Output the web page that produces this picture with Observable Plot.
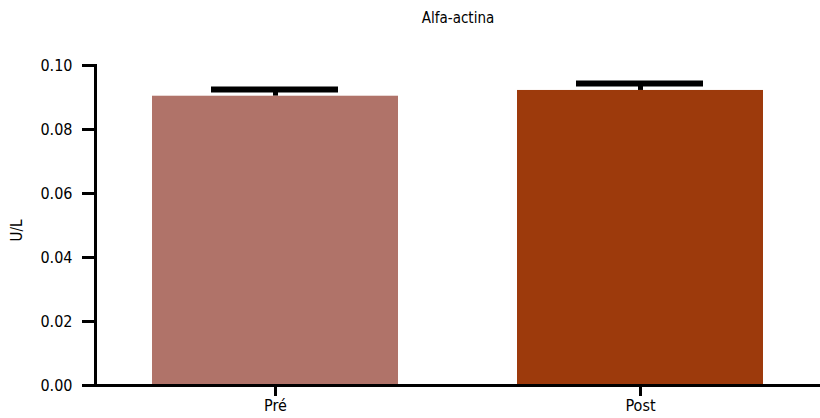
<!DOCTYPE html>
<html>
<head>
<meta charset="utf-8">
<script src="https://cdn.jsdelivr.net/npm/d3@7"></script>
<script src="https://cdn.jsdelivr.net/npm/@observablehq/plot@0.6"></script>
<style>
  body { margin: 0; background: #fff; }
  svg { display: block; }
</style>
</head>
<body>
<div id="chart"></div>
<script>
const categories = ["Pré", "Post"];
const means = [0.0904, 0.0922];
const errors = [0.0021, 0.0022];
const colors = ["#B07369", "#9D3A0C"];
const yTicks = [0, 0.02, 0.04, 0.06, 0.08, 0.10];
const title = "Alfa-actina";
const yLabel = "U/L";

const data = categories.map((c, i) => ({cat: c, mean: means[i], top: means[i] + errors[i]}));
const FONT = "'Liberation Sans Narrow', 'DejaVu Sans Condensed', sans-serif";

const chart = Plot.plot({
  width: 820,
  height: 418,
  marginTop: 65,
  marginBottom: 33,
  marginLeft: 95,
  marginRight: 0,
  style: {fontFamily: FONT, background: "#fff", color: "#000"},
  x: {domain: categories, paddingInner: 0.325, paddingOuter: 0.153, axis: null},
  y: {domain: [0, 0.1], axis: null},
  color: {domain: categories, range: colors},
  marks: [
    Plot.ruleX(data, {x: "cat", y1: "mean", y2: "top", stroke: "#000", strokeWidth: 5}),
    Plot.barY(data, {x: "cat", y: "mean", fill: "cat"}),
    Plot.tickY(data, {x: "cat", y: "top", stroke: "#000", strokeWidth: 6, insetLeft: 59, insetRight: 60}),
    Plot.axisY({ticks: yTicks, tickFormat: d3.format(".2f"), tickSize: 13, strokeWidth: 3, tickPadding: 10, fontSize: 16, label: null}),
    Plot.axisX({tickSize: 11, strokeWidth: 3, tickPadding: 3, fontSize: 16, label: null}),
    Plot.ruleY([0], {stroke: "#000", strokeWidth: 3}),
    Plot.frame({anchor: "left", stroke: "#000", strokeWidth: 3}),
    Plot.text([title], {frameAnchor: "top", dy: -53, fontSize: 15, fill: "#000"}),
    Plot.text([yLabel], {frameAnchor: "left", dx: -78, dy: 5, rotate: -90, textAnchor: "middle", fontSize: 15, fill: "#000"})
  ]
});
document.getElementById("chart").appendChild(chart);
</script>
</body>
</html>
